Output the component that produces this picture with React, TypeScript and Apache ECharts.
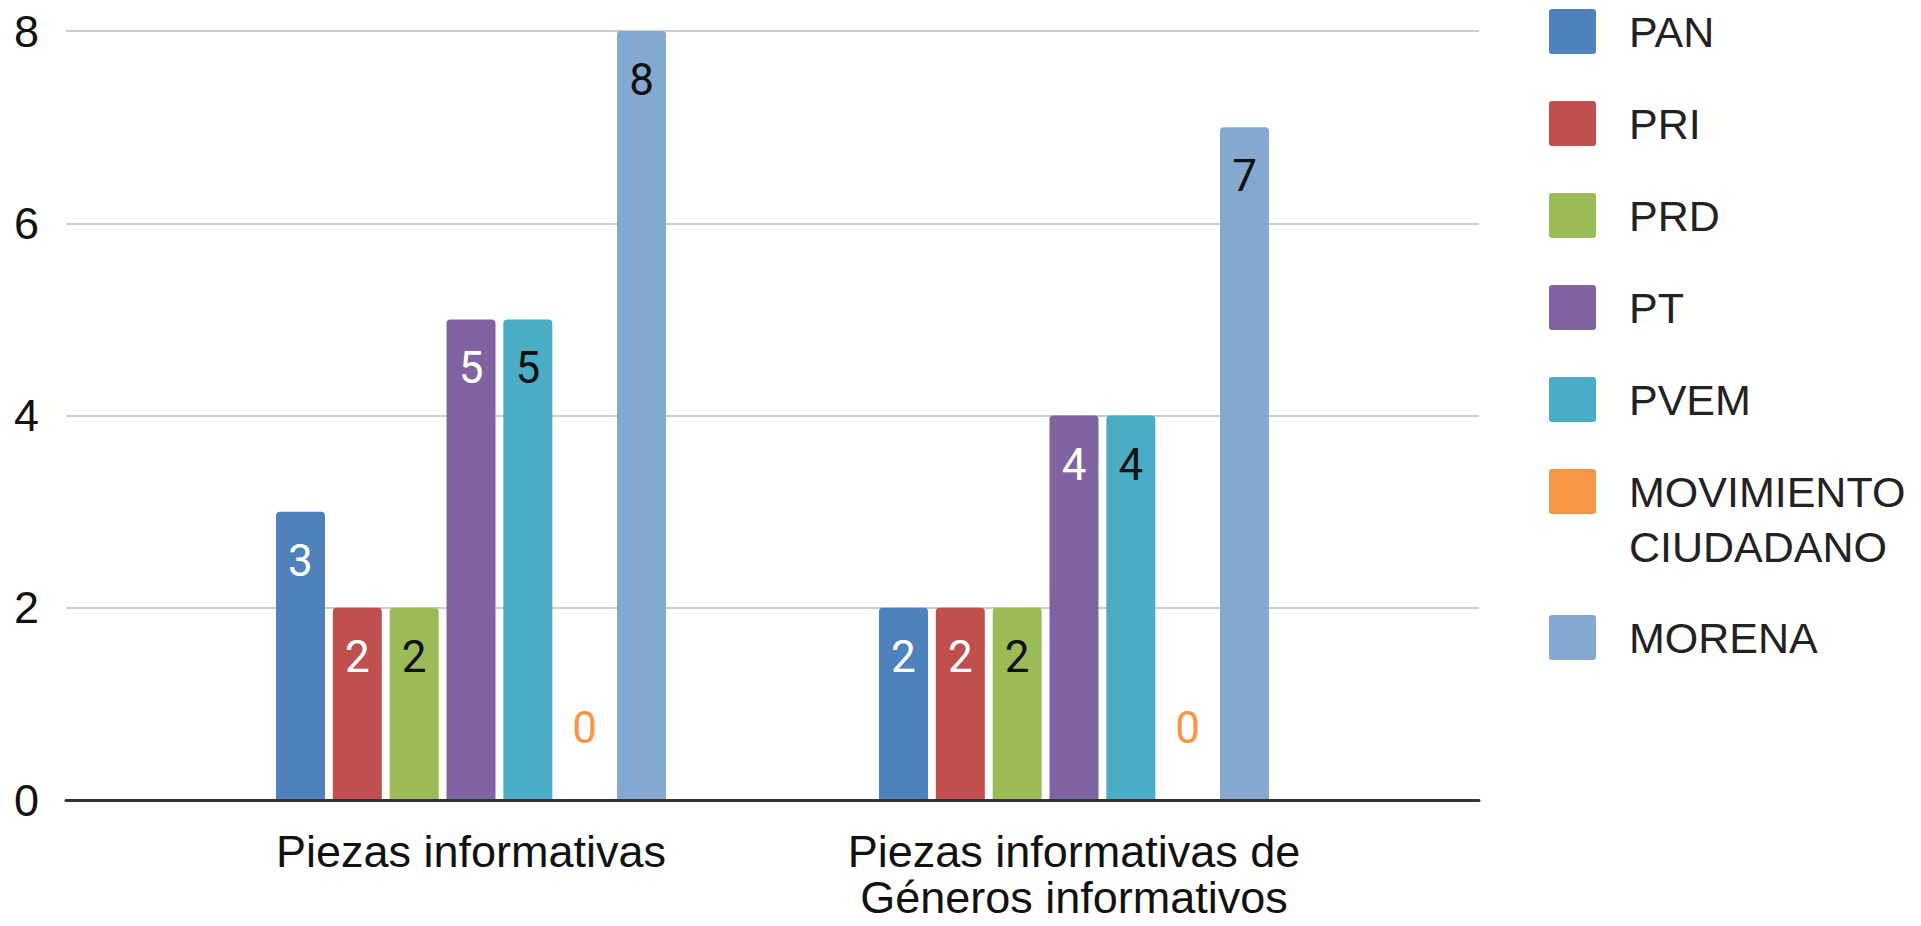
import React, { useEffect, useRef } from "react";
import * as echarts from "echarts";

const categories = ["Piezas informativas", "Piezas informativas de\nGéneros informativos"];
const parties = ["PAN", "PRI", "PRD", "PT", "PVEM", "MOVIMIENTO CIUDADANO", "MORENA"];
const panValues = [3, 2];
const priValues = [2, 2];
const prdValues = [2, 2];
const ptValues = [5, 4];
const pvemValues = [5, 4];
const mcValues = [0, 0];
const morenaValues = [8, 7];
const partyValues = [panValues, priValues, prdValues, ptValues, pvemValues, mcValues, morenaValues];
const partyColors = ["#4f81bd", "#c0504d", "#9bbb59", "#8064a2", "#4bacc6", "#f79646", "#85a8d1"];
const labelColors = ["#ffffff", "#ffffff", "#111111", "#ffffff", "#111111", "#f79646", "#111111"];
const yMin = 0;
const yMax = 8;
const yInterval = 2;

const ICON =
  "path://M3,0h41a3,3 0 0 1 3,3v39a3,3 0 0 1 -3,3h-41a3,3 0 0 1 -3,-3v-39a3,3 0 0 1 3,-3z";

export default function App() {
  const ref = useRef<HTMLDivElement>(null);
  useEffect(() => {
    if (!ref.current) return;
    const chart = echarts.init(ref.current, undefined, { renderer: "svg" });
    const axisFont = "'Liberation Sans', Arial, sans-serif";
    const plotTop = 31;
    const plotHeight = 769;
    const series: any[] = parties.map((p, i) => ({
      name: p,
      type: "bar",
      xAxisIndex: 1,
      yAxisIndex: 1,
      data: partyValues[i],
      barWidth: 49,
      barGap: "16%",
      itemStyle: { color: partyColors[i], borderRadius: [4, 4, 0, 0] },
      label: {
        show: true,
        position: p === "MOVIMIENTO CIUDADANO" ? "top" : "insideTop",
        distance: p === "MOVIMIENTO CIUDADANO" ? 50 : 27,
        color: labelColors[i],
        fontFamily: "Roboto, sans-serif",
        fontSize: 44,
        lineHeight: 44,
      },
      emphasis: { disabled: true },
    }));
    series.push({
      type: "line",
      xAxisIndex: 0,
      yAxisIndex: 0,
      data: [],
      silent: true,
    });
    const legendText = {
      fontFamily: axisFont,
      fontSize: 43,
      lineHeight: 45,
      color: "#222222",
      padding: [0, 0, 0, 28],
    };
    const mkLegend = (names: string[], top: number, extra: any = {}) => ({
      data: names.map((n) => ({ name: n, icon: ICON })),
      orient: "vertical",
      left: 1549,
      top,
      itemWidth: 47,
      itemHeight: 45,
      itemGap: 47,
      padding: 0,
      selectedMode: false,
      textStyle: { ...legendText, ...extra },
      formatter: (name: string) =>
        name === "MOVIMIENTO CIUDADANO" ? "\nMOVIMIENTO\nCIUDADANO" : name,
    });
    chart.setOption({
      animation: false,
      backgroundColor: "#ffffff",
      grid: [
        { left: 66, width: 1413, top: plotTop, height: plotHeight, containLabel: false },
        { left: 169.5, width: 1206, top: plotTop, height: plotHeight, containLabel: false },
      ],
      xAxis: [
        {
          type: "category",
          gridIndex: 0,
          data: [""],
          axisLine: { show: true, lineStyle: { color: "#333333", width: 3 } },
          axisTick: { show: false },
          axisLabel: { show: false },
          splitLine: { show: false },
          z: 5,
        },
        {
          type: "category",
          gridIndex: 1,
          data: categories,
          axisLine: { show: false },
          axisTick: { show: false },
          axisLabel: {
            show: true,
            margin: 28,
            fontFamily: axisFont,
            fontSize: 45,
            lineHeight: 46,
            color: "#111111",
            verticalAlign: "top",
            interval: 0,
          },
          splitLine: { show: false },
        },
      ],
      yAxis: [
        {
          type: "value",
          gridIndex: 0,
          min: yMin,
          max: yMax,
          interval: yInterval,
          axisLine: { show: false },
          axisTick: { show: false },
          axisLabel: {
            margin: 27,
            fontFamily: axisFont,
            fontSize: 45,
            color: "#111111",
          },
          splitLine: { show: true, lineStyle: { color: "#cccccc", width: 2 } },
        },
        {
          type: "value",
          gridIndex: 1,
          min: yMin,
          max: yMax,
          interval: yInterval,
          show: false,
          splitLine: { show: false },
        },
      ],
      legend: [
        mkLegend(["PAN", "PRI", "PRD", "PT", "PVEM"], 9),
        mkLegend(["MOVIMIENTO CIUDADANO"], 409, { lineHeight: 55 }),
        mkLegend(["MORENA"], 615),
      ],
      series,
    });
    return () => chart.dispose();
  }, []);
  return (
    <div
      ref={ref}
      style={{ position: "fixed", left: 0, top: 0, width: 1921, height: 926, background: "#fff" }}
    />
  );
}
